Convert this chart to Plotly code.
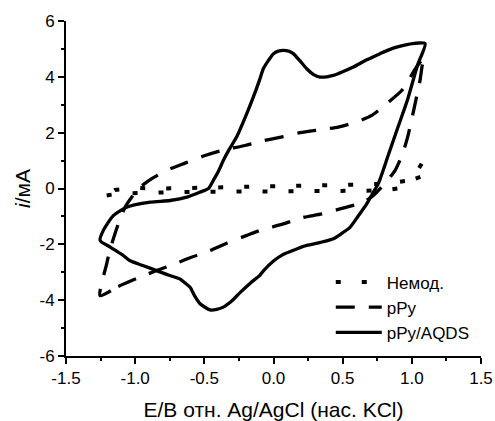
import plotly.graph_objects as go

# Unmodified electrode (dotted)
nemod_E = [-1.206, -1.146, -1.02, -0.85, -0.7, -0.53, -0.35, -0.17, 0.0, 0.2, 0.4, 0.6, 0.8, 0.9, 0.99, 1.07, 1.085,
           1.0, 0.807, 0.6, 0.4, 0.2, 0.0, -0.27, -0.42, -0.6, -0.79, -1.0, -1.146, -1.206]
nemod_i = [-0.25, -0.2, -0.17, -0.14, -0.13, -0.12, -0.12, -0.11, -0.1, -0.1, -0.09, -0.08, -0.07, 0.0, 0.29, 0.43, 1.0,
           0.3, 0.17, 0.14, 0.12, 0.11, 0.1, 0.06, 0.05, 0.01, 0.0, 0.02, -0.05, -0.25]

# pPy (dashed)
ppy_E = [-1.254, -1.122, -0.977, -0.845, -0.724, -0.603, -0.471, -0.338, -0.193, -0.097, 0.071, 0.204, 0.349, 0.481,
         0.65, 0.722, 0.8, 0.879, 0.93, 0.97, 1.0, 1.035, 1.06, 1.075, 1.094,
         1.035, 0.927, 0.83, 0.71, 0.614, 0.469, 0.349, 0.192, 0.071, -0.085, -0.206, -0.374, -0.495, -0.64, -0.772,
         -0.88, -0.977, -1.073, -1.122, -1.18, -1.206, -1.254]
ppy_i = [-3.84, -3.51, -3.2, -2.94, -2.72, -2.48, -2.25, -1.96, -1.68, -1.5, -1.27, -1.05, -0.91, -0.73,
         -0.49, -0.25, 0.15, 0.65, 1.2, 1.85, 2.5, 3.3, 3.9, 4.4, 4.72,
         4.36, 3.51, 3.09, 2.62, 2.41, 2.2, 2.11, 2.0, 1.86, 1.7, 1.54, 1.36, 1.18, 0.91, 0.65,
         0.35, -0.01, -0.67, -1.27, -2.16, -2.7, -3.84]

# pPy/AQDS (solid)
aqds_E = [-1.254, -1.23, -1.158, -1.062, -0.89, -0.748, -0.62, -0.531, -0.47, -0.435, -0.40, -0.363, -0.32, -0.266,
          -0.2, -0.146, -0.1, -0.073, -0.035, 0.0, 0.035, 0.071, 0.11, 0.143, 0.19, 0.24, 0.29, 0.337, 0.385, 0.433,
          0.5, 0.577, 0.67, 0.77, 0.86, 0.94, 1.02, 1.096,
          1.04, 0.967, 0.9, 0.83, 0.76, 0.722, 0.674, 0.61, 0.553, 0.49, 0.433, 0.34, 0.24, 0.15, 0.071, 0.0, -0.073,
          -0.097, -0.17, -0.24, -0.30, -0.363, -0.41, -0.459, -0.531, -0.57, -0.603, -0.64, -0.676, -0.76, -0.845,
          -0.95, -1.04, -1.086, -1.18, -1.254]
aqds_i = [-1.86, -1.5, -0.97, -0.67, -0.49, -0.43, -0.3, -0.13, 0.0, 0.29, 0.6, 1.0, 1.4, 1.85,
          2.6, 3.27, 3.9, 4.3, 4.6, 4.83, 4.92, 4.95, 4.92, 4.83, 4.58, 4.29, 4.08, 3.99, 4.0, 4.05,
          4.18, 4.35, 4.6, 4.83, 5.02, 5.13, 5.2, 5.19,
          4.4, 3.15, 2.2, 1.2, 0.2, -0.13, -0.55, -1.0, -1.39, -1.62, -1.8, -1.93, -2.04, -2.2, -2.36, -2.6, -2.95,
          -3.1, -3.4, -3.72, -4.02, -4.25, -4.33, -4.35, -4.13, -3.85, -3.54, -3.38, -3.24, -3.1, -2.94,
          -2.75, -2.58, -2.4, -2.1, -1.86]

x_ticks = [-1.5, -1.0, -0.5, 0.0, 0.5, 1.0, 1.5]
x_ticktext = ["-1.5", "-1.0", "-0.5", "0.0", "0.5", "1.0", "1.5"]
y_ticks = [-6, -4, -2, 0, 2, 4, 6]
y_ticktext = ["-6", "-4", "-2", "0", "2", "4", "6"]

FONT = "Liberation Sans, Arial, sans-serif"

fig = go.Figure()
fig.add_trace(go.Scatter(x=nemod_E, y=nemod_i, mode="lines", name="Немод.",
                         line=dict(color="black", width=4, dash="5px,21px")))
fig.add_trace(go.Scatter(x=ppy_E, y=ppy_i, mode="lines", name="pPy",
                         line=dict(color="black", width=3.3, dash="19px,14px", shape="spline", smoothing=0.6)))
fig.add_trace(go.Scatter(x=aqds_E, y=aqds_i, mode="lines", name="pPy/AQDS",
                         line=dict(color="black", width=3.3, shape="spline", smoothing=0.6)))

axis_common = dict(
    showgrid=False, zeroline=False, showline=True, linecolor="black", linewidth=2,
    ticks="outside", ticklen=6, tickwidth=1.5, tickcolor="black", automargin=False,
    tickfont=dict(family=FONT, size=17, color="black"),
)
fig.update_xaxes(range=[-1.5, 1.5], tickvals=x_ticks, ticktext=x_ticktext,
                 minor=dict(ticks="outside", ticklen=3, tickwidth=1.5, tickcolor="black", dtick=0.25),
                 title=dict(text="E/B отн. Ag/AgCl (нас. KCl)", font=dict(family=FONT, size=21, color="black"),
                            standoff=19),
                 **axis_common)
fig.update_yaxes(range=[-6, 6], tickvals=y_ticks, ticktext=y_ticktext,
                 minor=dict(ticks="outside", ticklen=3, tickwidth=1.5, tickcolor="black", dtick=1),
                 title=dict(text="<i>i</i>/мА", font=dict(family=FONT, size=21, color="black"), standoff=3),
                 **axis_common)

fig.update_layout(
    width=495, height=421,
    margin=dict(l=66, r=14, t=21, b=65),
    plot_bgcolor="white", paper_bgcolor="white",
    showlegend=True,
    legend=dict(x=0.638, y=0.273, xanchor="left", yanchor="top", bgcolor="rgba(0,0,0,0)",
                font=dict(family=FONT, size=17, color="black"), itemwidth=46,
                tracegroupgap=0),
)

fig.write_html("out.html")
